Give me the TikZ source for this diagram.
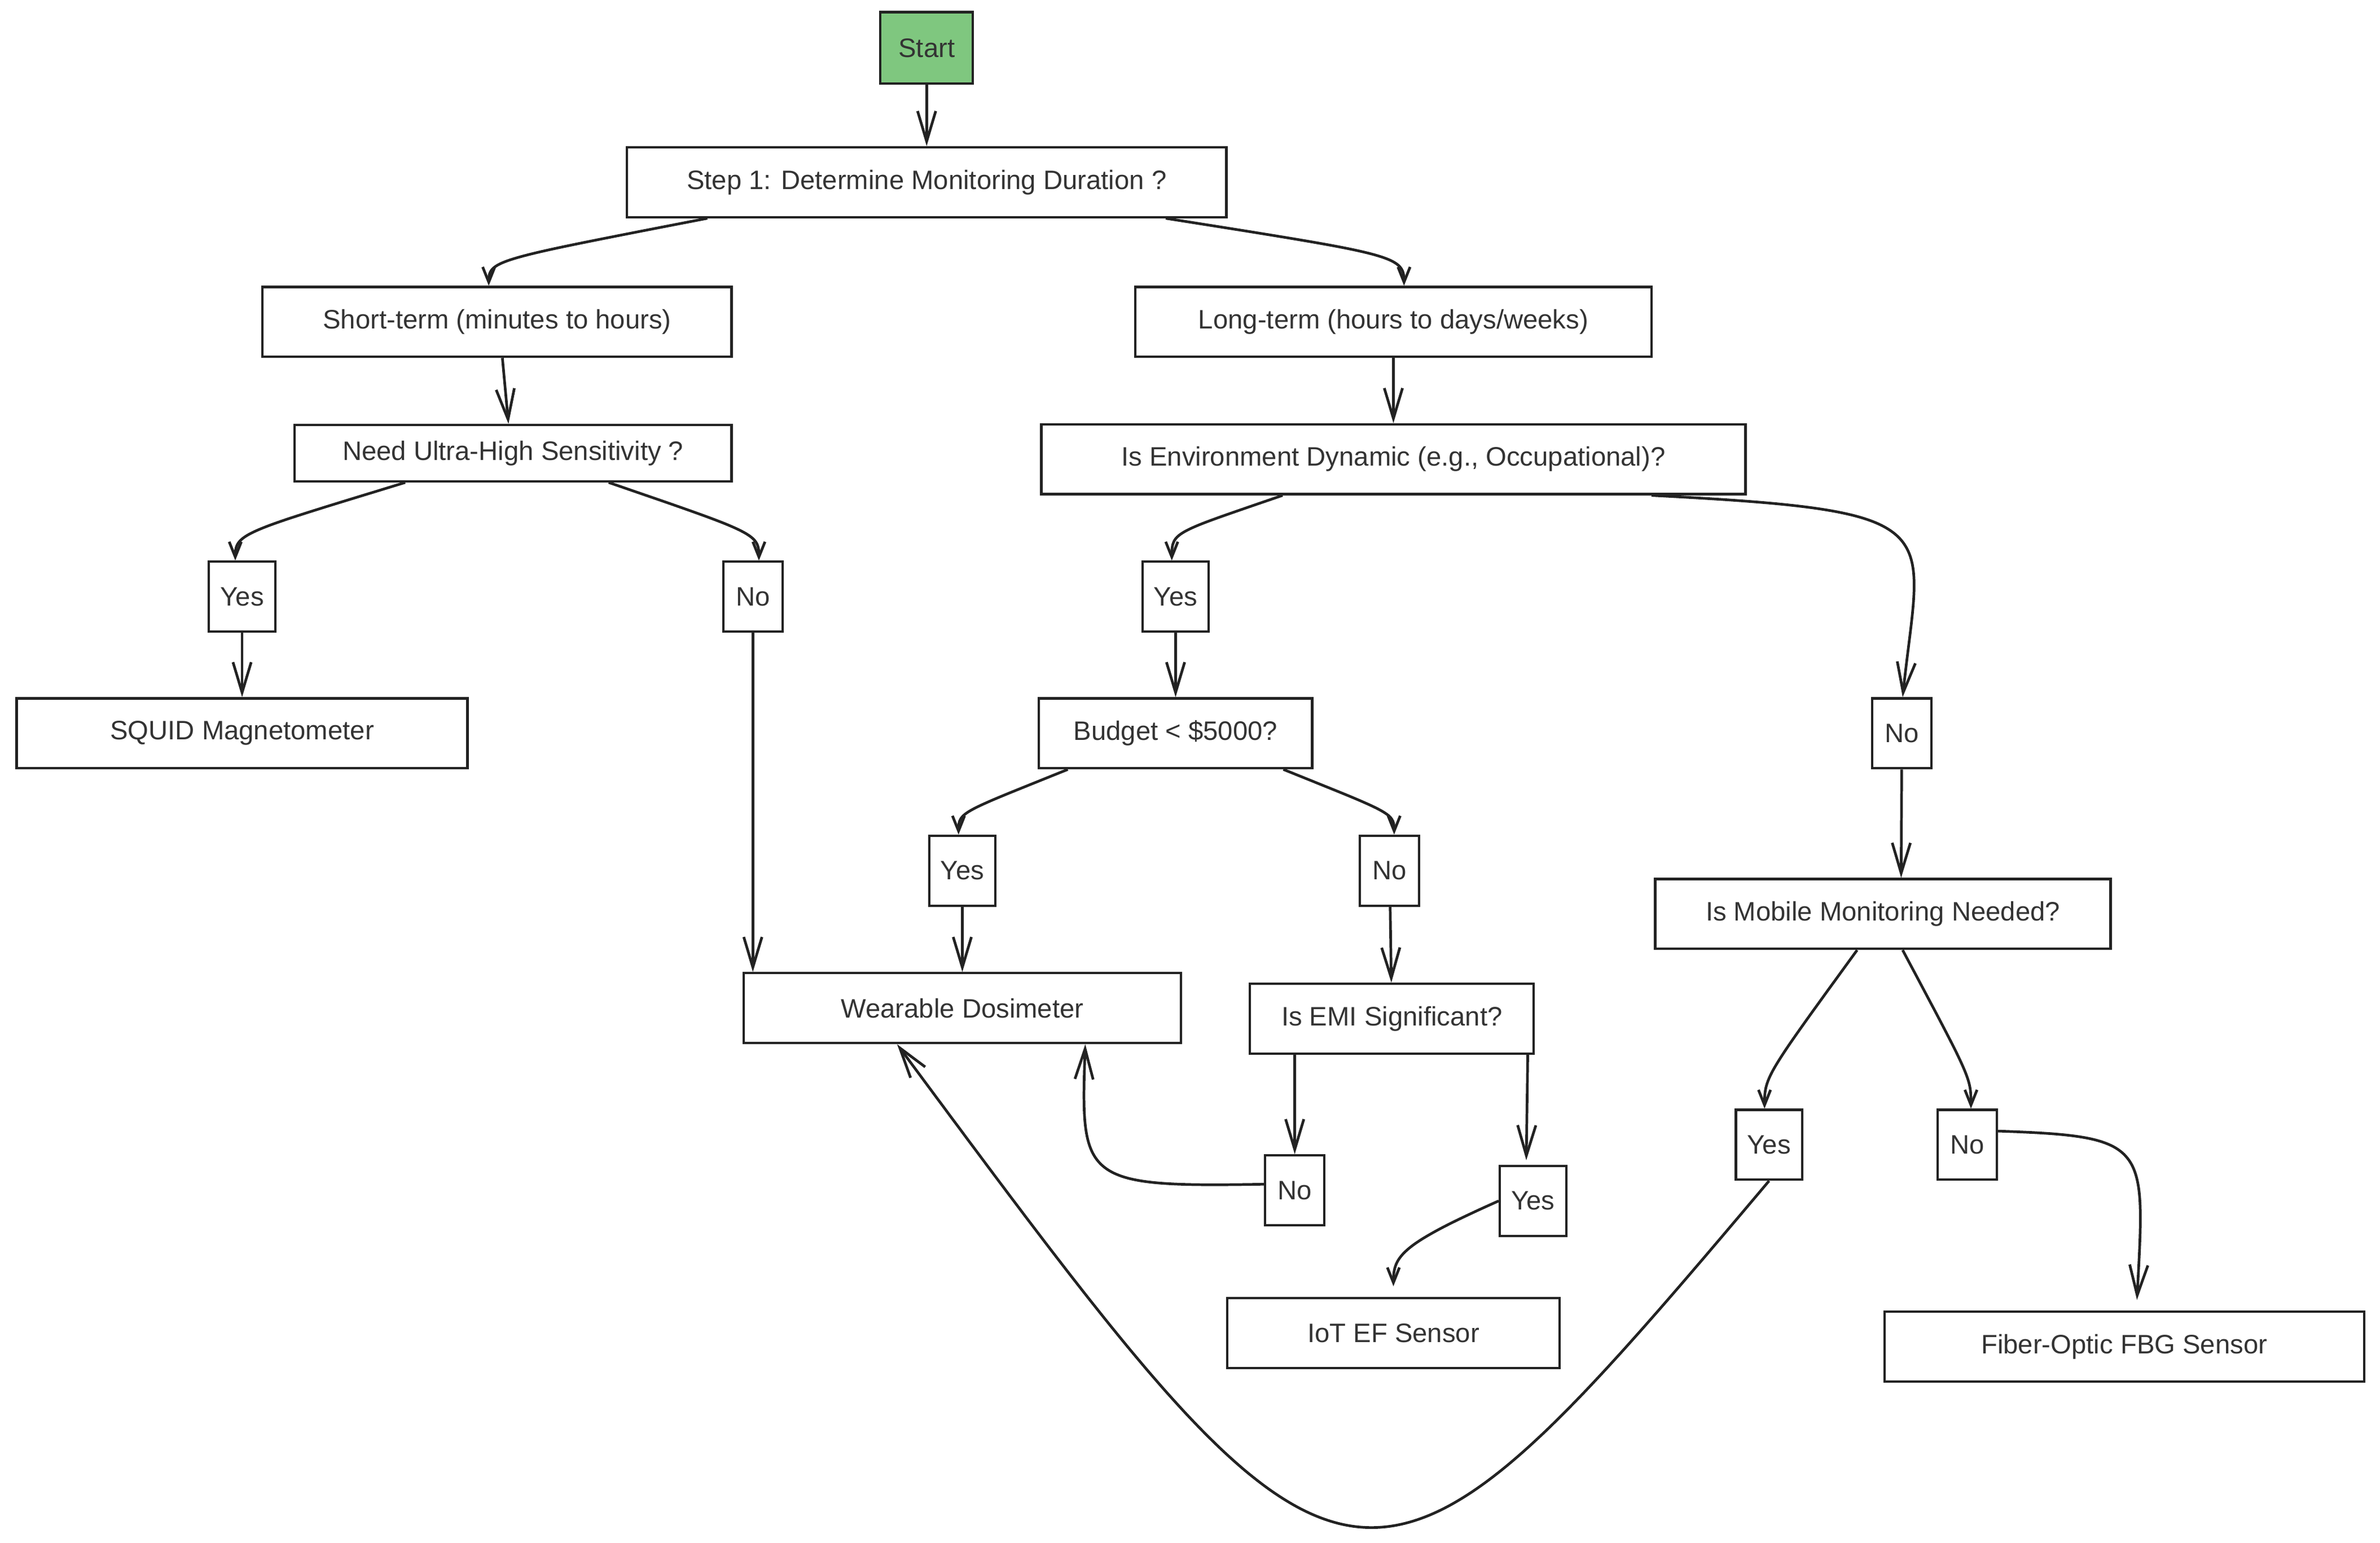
\documentclass[tikz,border=0pt]{standalone}
\usepackage{fontspec}
\setmainfont{Liberation Sans}
\usepackage{tikz}
\usetikzlibrary{shapes, arrows.meta}
\definecolor{startgreen}{RGB}{127,199,127}
\definecolor{linegray}{RGB}{34,34,34}
\definecolor{textgray}{RGB}{51,51,51}
\tikzstyle{startstop} = [rectangle, minimum width=12.2mm, minimum height=9.4mm, text centered, draw=linegray, line width=0.9pt, fill=startgreen, text=textgray]
\tikzstyle{process} = [rectangle, minimum height=9.2mm, text centered, draw=linegray, line width=0.9pt, text=textgray]
\tikzstyle{answer} = [rectangle, minimum width=7.8mm, minimum height=9.2mm, inner xsep=1.5mm, text centered, draw=linegray, line width=0.9pt, text=textgray]
\tikzstyle{arrow} = [line width=1pt, draw=linegray, -{Straight Barb[length=4mm, width=2.4mm]}]
\tikzstyle{smallarrow} = [line width=1pt, draw=linegray, -{Straight Barb[length=2mm, width=1.6mm]}]

\begin{document}
\begin{tikzpicture}[font = \fontsize{10}{12}\selectfont, node distance = 18mm]
\useasboundingbox (-122.1mm,6.3mm) rectangle (191.5mm,-196.9mm);
\node (start) [startstop] {Start};
\node (step1) [process, below of=start, yshift=0.3mm, minimum width=79mm] {Step 1: Determine Monitoring Duration ?};
\node (short) [process, below of=step1, xshift=-56.6mm, yshift=-0.4mm, minimum width=61.8mm] {Short-term (minutes to hours)};
\node (long) [process, below of=step1, xshift=61.5mm, yshift=-0.4mm, minimum width=68mm] {Long-term (hours to days/weeks)};
\node (need) [process, below of=short, xshift=2.1mm, yshift=0.7mm, minimum width=57.6mm, minimum height=7.4mm] {Need Ultra-High Sensitivity ?};
\node (env) [process, below of=long, yshift=-0.1mm, minimum width=92.8mm] {Is Environment Dynamic (e.g., Occupational)?};
\node (yesA) [answer, below of=need, xshift=-35.7mm, yshift=-0.9mm] {Yes};
\node (noA) [answer, below of=need, xshift=31.6mm, yshift=-0.9mm] {No};
\node (yesB) [answer, below of=env, xshift=-28.7mm, yshift=-0.1mm] {Yes};
\node (squid) [process, below of=yesA, minimum width=59.4mm] {SQUID Magnetometer};
\node (budget) [process, below of=yesB, minimum width=36mm] {Budget < \$5000?};
\node (noB) [answer, right of=budget, xshift=77.7mm] {No};
\node (yesC) [answer, below of=budget, xshift=-28.1mm, yshift=-0.1mm] {Yes};
\node (noC) [answer, below of=budget, xshift=28.2mm, yshift=-0.1mm] {No};
\node (mobile) [process, below of=noB, xshift=-2.5mm, yshift=-5.8mm, minimum width=60mm] {Is Mobile Monitoring Needed?};
\node (wear) [process, below of=yesC, yshift=-0.1mm, minimum width=57.6mm] {Wearable Dosimeter};
\node (emi) [process, below of=noC, xshift=0.3mm, yshift=-1.5mm, minimum width=37.4mm] {Is EMI Significant?};
\node (yesD) [answer, below of=mobile, xshift=-15mm, yshift=-12.4mm] {Yes};
\node (noD) [answer, below of=mobile, xshift=11.1mm, yshift=-12.4mm] {No};
\node (noE) [answer, below of=emi, xshift=-12.8mm, yshift=-4.6mm] {No};
\node (yesE) [answer, below of=emi, xshift=18.6mm, yshift=-6mm] {Yes};
\node (iot) [process, below of=yesE, xshift=-18.4mm, yshift=0.6mm, minimum width=43.8mm] {IoT EF Sensor};
\node (fiber) [process, below of=noD, xshift=20.7mm, yshift=-8.6mm, minimum width=63.2mm] {Fiber-Optic FBG Sensor};

%---------------------------------ARROWS
\draw [arrow] (start) -- (step1);
\draw [smallarrow] ([xshift=-28.9mm]step1.south) .. controls +(191:28mm) and +(90:3.4mm) .. ([xshift=-1.1mm]short.north);
\draw [smallarrow] ([xshift=31.5mm]step1.south) .. controls +(351:30mm) and +(90:4mm) .. ([xshift=1.4mm]long.north);
\draw [arrow] ([xshift=0.7mm]short.south) -- ([xshift=-0.6mm]need.north);
\draw [arrow] (long) -- (env);
\draw [smallarrow] ([xshift=-14.2mm]need.south) .. controls +(197:22mm) and +(90:3.6mm) .. ([xshift=-0.9mm]yesA.north);
\draw [smallarrow] ([xshift=12.6mm]need.south) .. controls +(341:20mm) and +(90:3.6mm) .. ([xshift=0.8mm]noA.north);
\draw [smallarrow] ([xshift=-14.6mm]env.south) .. controls +(199:15mm) and +(90:3.8mm) .. ([xshift=-0.5mm]yesB.north);
\draw [arrow] ([xshift=34mm]env.south) .. controls +(357:40mm) and +(84:23mm) .. ([xshift=0.1mm]noB.north);
\draw [arrow] (yesA) -- (squid);
\draw [arrow] (noA) -- (noA |- wear.north);
\draw [arrow] (yesB) -- (budget);
\draw [smallarrow] ([xshift=-14.2mm]budget.south) .. controls +(202:15mm) and +(90:3mm) .. ([xshift=-0.5mm]yesC.north);
\draw [smallarrow] ([xshift=14.2mm]budget.south) .. controls +(338:15mm) and +(90:2.9mm) .. ([xshift=0.6mm]noC.north);
\draw [arrow] (noB) -- ([xshift=2.4mm]mobile.north);
\draw [arrow] (yesC) -- (wear);
\draw [arrow] (noC) -- (emi);
\draw [smallarrow] ([xshift=-3.4mm]mobile.south) .. controls +(234:20mm) and +(90:4.2mm) .. ([xshift=-0.6mm]yesD.north);
\draw [smallarrow] ([xshift=2.6mm]mobile.south) .. controls +(298:19mm) and +(90:4.1mm) .. ([xshift=0.5mm]noD.north);
\draw [arrow] (noE |- emi.south) -- (noE);
\draw [arrow, shorten >=0.6mm] ([xshift=17.9mm]emi.south) -- ([xshift=-0.9mm]yesE.north);
\draw [arrow] ([yshift=0.8mm]noE.west) .. controls +(181:24mm) and +(268:18mm) .. ([xshift=16.2mm]wear.south);
\draw [smallarrow, shorten >=1.4mm] (yesE.west) .. controls +(204:14mm) and +(90:5.4mm) .. (iot.north);
\draw [arrow, shorten >=1.4mm] ([yshift=1.8mm]noD.east) .. controls +(358:20mm) and +(87:22mm) .. ([xshift=1.6mm]fiber.north);
\draw [arrow] (yesD.south) .. controls +(-54mm,-64mm) and +(60mm,-81mm) .. ([xshift=-8.6mm]wear.south);

\end{tikzpicture}
\end{document}
